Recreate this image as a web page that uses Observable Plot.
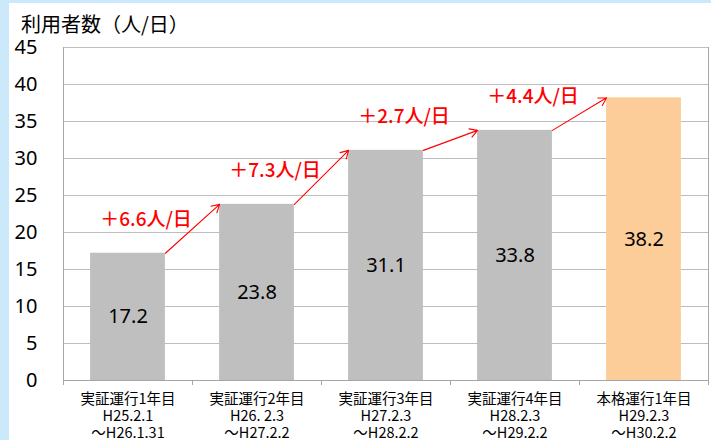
<!DOCTYPE html>
<html>
<head>
<meta charset="utf-8">
<script src="https://cdn.jsdelivr.net/npm/d3@7"></script>
<script src="https://cdn.jsdelivr.net/npm/@observablehq/plot@0.6"></script>
<style>
  html, body { margin: 0; padding: 0; }
  body { width: 711px; height: 440px; background: #cce8fb; position: relative; overflow: hidden; }
  #panel { position: absolute; left: 9px; top: 3px; right: 0; bottom: 0; background: #ffffff; }
  #title { position: absolute; left: 21px; top: 12px; font-family: "Noto Sans CJK JP", sans-serif; font-size: 20px; line-height: 24px; color: #000; white-space: nowrap; }
  #chart { position: absolute; left: 0; top: 0; }
</style>
</head>
<body>
<div id="panel"></div>
<div id="chart"></div>
<div id="title">利用者数（人/日）</div>
<script>
const categories = ["実証運行1年目", "実証運行2年目", "実証運行3年目", "実証運行4年目", "本格運行1年目"];
const periodStarts = ["H25.2.1", "H26. 2.3", "H27.2.3", "H28.2.3", "H29.2.3"];
const periodEnds = ["～H26.1.31", "～H27.2.2", "～H28.2.2", "～H29.2.2", "～H30.2.2"];
const values = [17.2, 23.8, 31.1, 33.8, 38.2];
const increments = ["＋6.6人/日", "＋7.3人/日", "＋2.7人/日", "＋4.4人/日"];
const yTicks = [0, 5, 10, 15, 20, 25, 30, 35, 40, 45];

const HW = 0.29; // half bar width, in category units
const data = values.map((v, i) => ({i, v}));
const steps = increments.map((label, i) => ({i, from: values[i], to: values[i + 1], label}));
const centers = categories.map((_, i) => i);
const boundaries = [...centers.map(i => i - 0.5), categories.length - 0.5];
const gray = "#bfbfbf";
const peach = "#fdcd99";
const lineGray = "#a6a6a6";

const chart = Plot.plot({
  width: 711,
  height: 440,
  marginTop: 47,
  marginBottom: 60,
  marginLeft: 63,
  marginRight: 3,
  style: {background: "transparent", overflow: "visible"},
  x: {type: "linear", domain: [-0.5, categories.length - 0.5], axis: null, label: null},
  y: {domain: [0, 45], axis: null, label: null},
  marks: [
    Plot.gridY(yTicks, {stroke: "#bdbdbd", strokeOpacity: 1, strokeWidth: 1.2}),
    Plot.rectY(data, {x1: d => d.i - HW, x2: d => d.i + HW, y1: 0, y2: "v", fill: d => d.i === categories.length - 1 ? peach : gray}),
    Plot.ruleX([boundaries[0], boundaries[boundaries.length - 1]], {stroke: lineGray}),
    Plot.ruleY([0], {stroke: lineGray}),
    Plot.axisY({ticks: yTicks, label: null, tickSize: 0, tickPadding: 26, fontSize: 20, fontFamily: "'Noto Sans', sans-serif", fill: "#000"}),
    Plot.axisX({ticks: boundaries, label: null, tickSize: 5, tickFormat: () => "", stroke: lineGray}),
    Plot.axisX({ticks: centers, label: null, tickSize: 0, tickPadding: 12, fontSize: 14.5, lineHeight: 1.15,
      fontFamily: "'Noto Sans CJK JP', sans-serif", fill: "#000",
      tickFormat: i => categories[i] + "\n" + periodStarts[i] + "\n" + periodEnds[i]}),
    Plot.text(data, {x: "i", y: d => d.v / 2, text: d => d.v.toFixed(1), fontSize: 20, fontFamily: "'Noto Sans', sans-serif", fill: "#000"}),
    Plot.arrow(steps, {x1: d => d.i + HW, y1: "from", x2: d => d.i + 1 - HW, y2: "to", stroke: "#ff0000", strokeWidth: 1.1, headLength: 12, headAngle: 60}),
    Plot.text(steps, {x: "i", y: "from", dx: 18, dy: -33, text: "label", fill: "#ff0000", fontSize: 19, fontFamily: "'Noto Sans CJK JP', sans-serif", fontWeight: 500})
  ]
});
document.getElementById("chart").appendChild(chart);
</script>
</body>
</html>
